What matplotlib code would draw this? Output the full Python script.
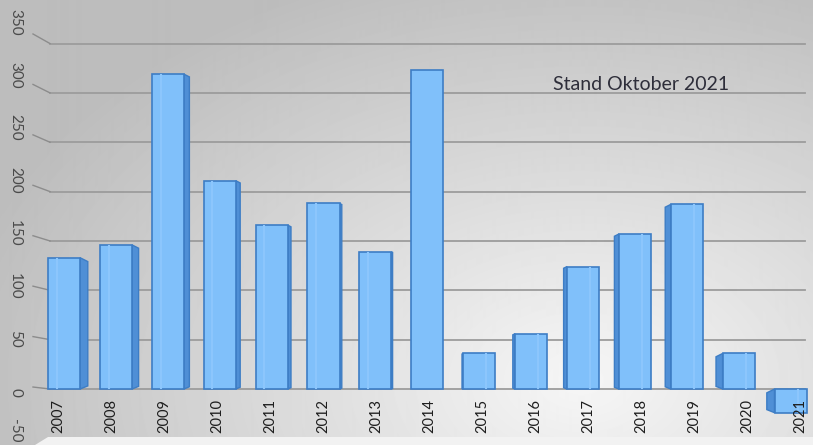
import numpy as np
import matplotlib.pyplot as plt
from matplotlib.patches import Polygon

years = ['2007', '2008', '2009', '2010', '2011', '2012', '2013', '2014',
         '2015', '2016', '2017', '2018', '2019', '2020', '2021']
values = [133, 146, 319, 211, 166, 188, 139, 323, 36, 56, 124, 157, 187, 36, -24]
y_ticks = [-50, 0, 50, 100, 150, 200, 250, 300, 350]
note = 'Stand Oktober 2021'

# pixel scale of the picture (813x445 at dpi 100)
PX_X = 51.9     # pixels per category
PX_Y = 0.987    # pixels per value unit
XLIM = (-64 / PX_X, (813 - 64) / PX_X)
YLIM = (-(445 - 389) / PX_Y, 389 / PX_Y)

plt.rcParams['font.family'] = ['Lato', 'DejaVu Sans']

fig = plt.figure(figsize=(8.13, 4.45), dpi=100)
ax = fig.add_axes([0, 0, 1, 1])
ax.set_xlim(*XLIM)
ax.set_ylim(*YLIM)
ax.axis('off')

# grey background, lighter towards the lower right middle
yy, xx = np.mgrid[0:445, 0:813]
dist = np.sqrt(((xx - 580) / 620.0) ** 2 + ((yy - 380) / 420.0) ** 2)
bg = np.clip(0.965 - 0.22 * dist, 0.74, 0.97)
ax.imshow(bg, cmap='gray', vmin=0, vmax=1, extent=[*XLIM, *YLIM],
          origin='upper', aspect='auto', zorder=0, interpolation='bilinear')

# floor strip at the bottom
floor = Polygon([(-29 / PX_X, YLIM[0]), (-16 / PX_X, -48 / PX_Y),
                 (XLIM[1], -48 / PX_Y), (XLIM[1], YLIM[0])],
                closed=True, facecolor='#f2f2f2', edgecolor='none', zorder=1)
ax.add_patch(floor)

# grid lines and slanted ticks
for t in y_ticks:
    if t < 0:
        continue
    ax.plot([-14 / PX_X, (805 - 64) / PX_X], [t, t], color='#9c9c9c', lw=1.3, zorder=1)
    ax.plot([-31 / PX_X, -14 / PX_X], [t * 1.022 + 2, t], color='#8c8c8c', lw=1.0, zorder=1)

for t in y_ticks:
    ty = max(1.071 * t - 3, -42.5)   # keep the lowest label inside the picture
    ax.text(-49 / PX_X, ty, str(t), rotation=-90, ha='center', va='center',
            fontsize=11, color='#4a4a4a', zorder=5)

# bars: front faces
x = np.arange(len(values))
w = 0.62
ax.bar(x, values, width=w, color='#80c0fa', edgecolor='#3d7dc5', lw=1.2, zorder=3)

# side faces (perspective around the 2014 column)
mid = 7
for i, v in enumerate(values):
    d_px = 1.1 * abs(i - mid)
    if d_px == 0:
        continue
    s = 1 if i < mid else -1
    d = d_px / PX_X
    top, bot = max(v, 0), min(v, 0)
    xe = i + s * w / 2
    pts = [(xe, top), (xe + s * d, top - 0.5 * d_px / PX_Y),
           (xe + s * d, bot + 0.4 * d_px / PX_Y), (xe, bot)]
    ax.add_patch(Polygon(pts, closed=True, facecolor='#4f8fd6', edgecolor='#3d7dc5',
                         lw=1.0, zorder=2.9))
    # faint stripe on the front face
    ax.plot([i - s * 0.14, i - s * 0.14], [bot + 1, top - 1], color='#8cc6fc', lw=1.5,
            zorder=3.1)

# category labels
for i, yr in enumerate(years):
    ax.text(-0.116 + 1.021 * i, -10 / PX_Y, yr, rotation=90, ha='center', va='top',
            fontsize=10.5, color='#1e1e1e', zorder=5)

ax.text((553 - 64) / PX_X, (389 - 85) / PX_Y, note, ha='left', va='center',
        fontsize=14, color='#2e2e3a', zorder=5)

fig.savefig('out.png', dpi=100)
